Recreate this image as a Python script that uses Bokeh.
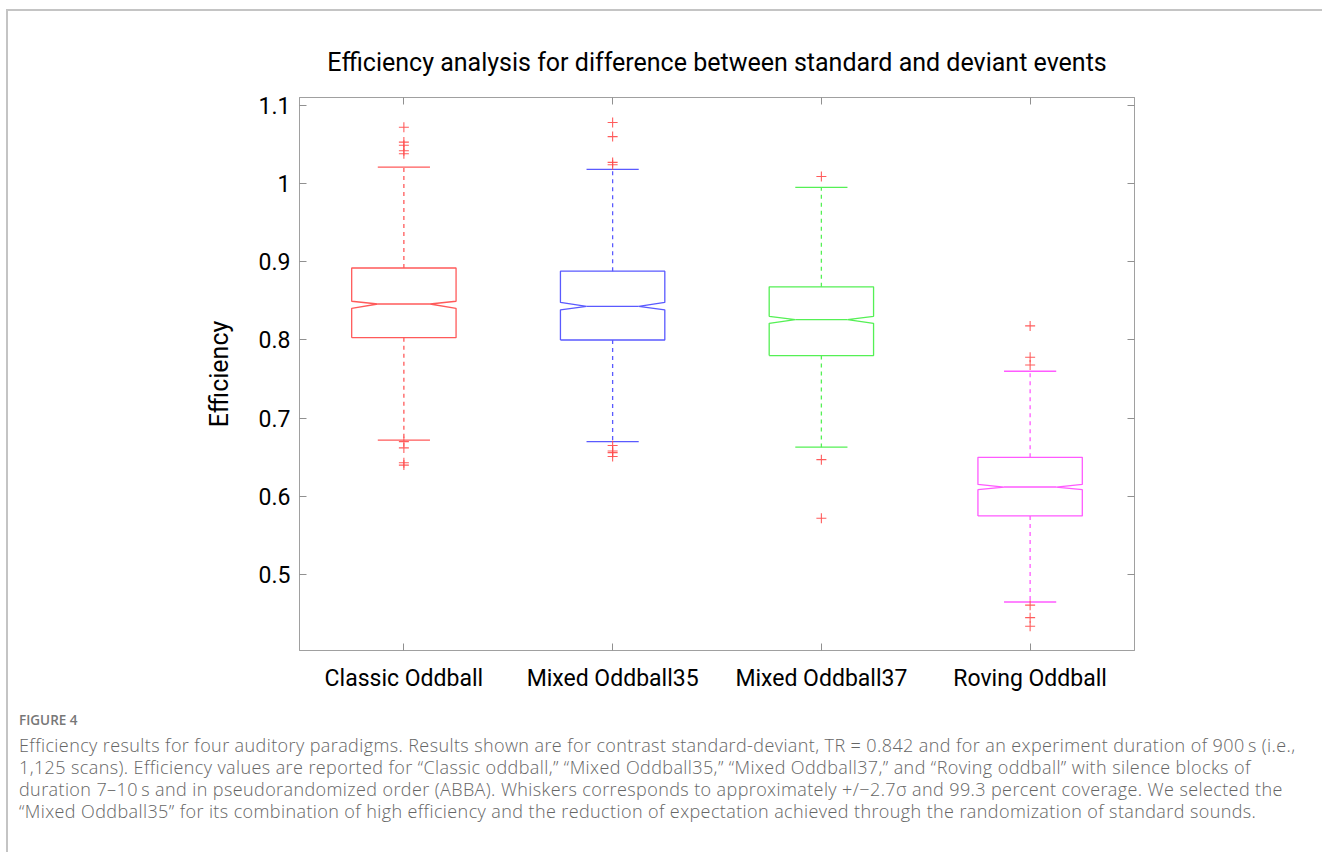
from bokeh.plotting import figure
from bokeh.models import (Range1d, FixedTicker, LinearAxis, Div, ColumnDataSource)
from bokeh.layouts import column
from bokeh.embed import file_html
from bokeh.resources import INLINE

# ---------------- data ----------------
categories = ["Classic Oddball", "Mixed Oddball35", "Mixed Oddball37", "Roving Oddball"]
q1 = [0.803, 0.800, 0.780, 0.575]
median = [0.846, 0.843, 0.826, 0.612]
q3 = [0.892, 0.888, 0.868, 0.650]
notch_lo = [0.8405, 0.8385, 0.8213, 0.6086]
notch_hi = [0.8495, 0.8480, 0.8303, 0.6153]
whisker_lo = [0.672, 0.670, 0.663, 0.465]
whisker_hi = [1.021, 1.018, 0.995, 0.760]
outliers_classic = [1.072, 1.053, 1.049, 1.042, 1.038, 0.670, 0.662, 0.643, 0.640]
outliers_mixed35 = [1.078, 1.060, 1.027, 1.024, 0.665, 0.658, 0.656, 0.651]
outliers_mixed37 = [1.009, 0.647, 0.572]
outliers_roving = [0.818, 0.778, 0.768, 0.461, 0.445, 0.434]
outliers = [outliers_classic, outliers_mixed35, outliers_mixed37, outliers_roving]
y_ticks = [0.5, 0.6, 0.7, 0.8, 0.9, 1.0, 1.1]

colors = ["#ff5a5a", "#5a5aff", "#55f055", "#ff5aff"]
outlier_color = "#ff4a4a"

FONT = "Roboto"
BOX_HALF = 0.25
NOTCH_HALF = 0.125
CAP_HALF = 0.125

p = figure(width=1312, height=691, output_backend="svg", toolbar_location=None,
           x_range=Range1d(0.5, 4.5), y_range=Range1d(0.403, 1.110),
           min_border_left=291, min_border_right=186, min_border_top=86,
           min_border_bottom=52, title="Efficiency analysis for difference between standard and deviant events")
p.title.align = "center"
p.title.text_font = FONT
p.title.text_font_size = "25px"
p.title.text_font_style = "normal"
p.title.text_color = "black"
p.title.standoff = 41
p.grid.visible = False
p.outline_line_color = "#a0a0a0"
p.outline_line_width = 1
p.background_fill_color = "white"
p.border_fill_color = "white"

xs_pos = [i + 1 for i in range(len(categories))]

def style_axis(ax, labels=True):
    ax.axis_line_color = "#a0a0a0"
    ax.major_tick_line_color = "#909090"
    ax.major_tick_in = 7
    ax.major_tick_out = 0
    ax.minor_tick_line_color = None
    ax.major_label_text_font = FONT
    ax.major_label_text_font_size = "23px"
    ax.major_label_text_color = "black"
    if not labels:
        ax.major_label_text_alpha = 0

# bottom axis
xa = p.xaxis[0]
xa.ticker = FixedTicker(ticks=xs_pos)
xa.major_label_overrides = {x: c for x, c in zip(xs_pos, categories)}
style_axis(xa)
xa.major_label_standoff = 14

# left axis
ya = p.yaxis[0]
ya.ticker = FixedTicker(ticks=y_ticks)
ya.major_label_overrides = {t: ("1" if t == 1.0 else f"{t:g}") for t in y_ticks}
style_axis(ya)
ya.major_label_standoff = 9
ya.axis_label = "Efficiency"
ya.axis_label_text_font = FONT
ya.axis_label_text_font_size = "25px"
ya.axis_label_text_font_style = "normal"
ya.axis_label_text_color = "black"
ya.axis_label_standoff = 22

# right & top axes (ticks only)
ra = LinearAxis(ticker=FixedTicker(ticks=y_ticks))
ra.major_label_overrides = {t: "" for t in y_ticks}
style_axis(ra, labels=False)
p.add_layout(ra, "right")
ta = LinearAxis(ticker=FixedTicker(ticks=xs_pos))
ta.major_label_overrides = {x: "" for x in xs_pos}
style_axis(ta, labels=False)
ta.major_label_standoff = 0
p.add_layout(ta, "above")

# boxes
for i, x in enumerate(xs_pos):
    c = colors[i]
    bx = [x - BOX_HALF, x - BOX_HALF, x - NOTCH_HALF, x - BOX_HALF, x - BOX_HALF,
          x + BOX_HALF, x + BOX_HALF, x + NOTCH_HALF, x + BOX_HALF, x + BOX_HALF, x - BOX_HALF]
    by = [q1[i], notch_lo[i], median[i], notch_hi[i], q3[i],
          q3[i], notch_hi[i], median[i], notch_lo[i], q1[i], q1[i]]
    p.line(bx, by, line_color=c, line_width=1.3)
    p.line([x - NOTCH_HALF, x + NOTCH_HALF], [median[i], median[i]], line_color=c, line_width=1.3)
    # whiskers
    p.line([x, x], [q3[i], whisker_hi[i]], line_color=c, line_width=1.3, line_dash="4 4")
    p.line([x, x], [q1[i], whisker_lo[i]], line_color=c, line_width=1.3, line_dash="4 4")
    p.line([x - CAP_HALF, x + CAP_HALF], [whisker_hi[i], whisker_hi[i]], line_color=c, line_width=1.3)
    p.line([x - CAP_HALF, x + CAP_HALF], [whisker_lo[i], whisker_lo[i]], line_color=c, line_width=1.3)
    src = ColumnDataSource(dict(x=[x] * len(outliers[i]), y=outliers[i]))
    p.scatter("x", "y", source=src, marker="cross", size=10, line_color=outlier_color,
              line_width=1.1, line_alpha=0.9)

caption_html = (
    '<div style="font-family: \'Open Sans\', Lato, sans-serif; color:#666666;">'
    '<div style="font-size:13.5px; font-weight:600; color:#777777; margin-bottom:4px;">FIGURE 4</div>'
    '<div style="font-size:18px; font-weight:300; line-height:22px; letter-spacing:0.4px;">'
    'Efficiency results for four auditory paradigms. Results shown are for contrast standard-deviant, TR = 0.842 and for an experiment duration of 900&thinsp;s (i.e.,<br>'
    '1,125 scans). Efficiency values are reported for \u201cClassic oddball,\u201d \u201cMixed Oddball35,\u201d \u201cMixed Oddball37,\u201d and \u201cRoving oddball\u201d with silence blocks of<br>'
    'duration 7\u201310&thinsp;s and in pseudorandomized order (ABBA). Whiskers corresponds to approximately +/\u22122.7\u03c3 and 99.3 percent coverage. We selected the<br>'
    '\u201cMixed Oddball35\u201d for its combination of high efficiency and the reduction of expectation achieved through the randomization of standard sounds.'
    '</div></div>'
)
cap = Div(text=caption_html, width=1306, height=140,
          styles={"padding-left": "6px", "padding-top": "4px"})

layout = column(p, cap, styles={"margin-top": "9px", "margin-left": "6px",
                                "border-top": "2px solid #c4c4c4", "border-left": "2px solid #c4c4c4"})

open("out.html", "w").write(file_html(layout, INLINE))
